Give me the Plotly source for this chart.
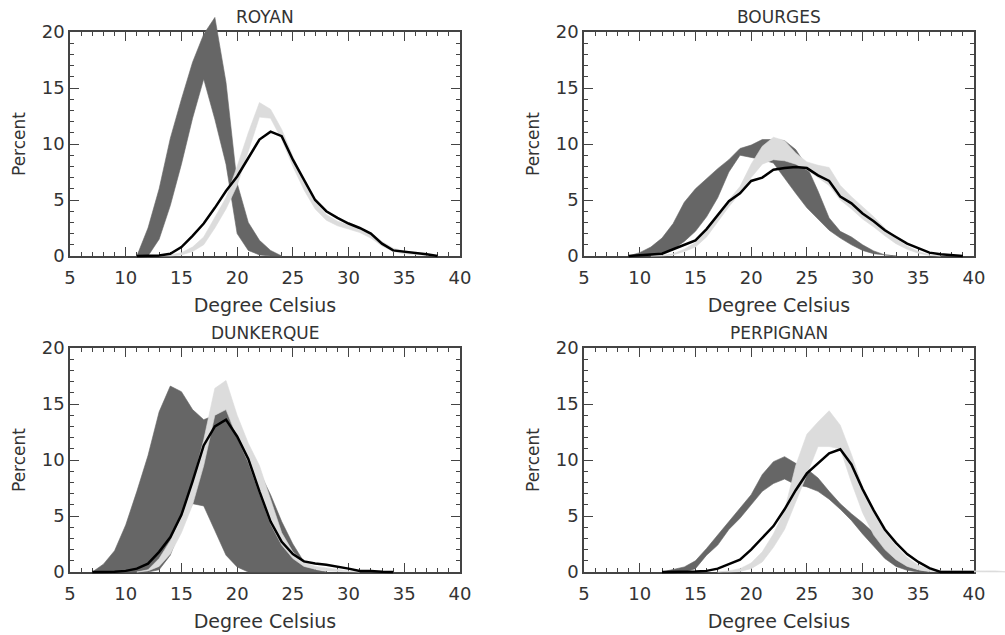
import plotly.graph_objects as go

W, H = 1005, 635

# ---------------- data (Percent vs Degree Celsius) ----------------
titles = ["ROYAN", "BOURGES", "DUNKERQUE", "PERPIGNAN"]

# ROYAN
royan_dark_x = list(range(11, 25))
royan_dark_lo = [0, 0, 1.5, 4.5, 8.2, 12.3, 15.8, 12.2, 8.2, 2.0, 0.5, 0.1, 0, 0]
royan_dark_hi = [0, 2.5, 6.0, 10.5, 14.0, 17.3, 19.8, 21.3, 15.5, 6.5, 3.0, 1.4, 0.5, 0]
royan_light_x = list(range(13, 39))
royan_light_lo = [0, 0, 0.1, 0.4, 1.0, 2.5, 4.2, 6.3, 9.3, 12.4, 12.3, 10.4, 8.0, 5.9,
                  4.2, 3.2, 2.7, 2.4, 2.1, 1.6, 0.9, 0.4, 0.2, 0.1, 0.05, 0]
royan_light_hi = [0, 0.1, 0.3, 0.8, 1.7, 3.4, 5.2, 8.0, 11.0, 13.7, 13.1, 11.3, 8.9, 6.7,
                  4.8, 3.7, 3.1, 2.8, 2.5, 2.0, 1.3, 0.7, 0.45, 0.3, 0.2, 0]
royan_line_x = list(range(11, 39))
royan_line_y = [0, 0, 0.05, 0.2, 0.8, 1.8, 2.9, 4.3, 5.8, 7.1, 8.8, 10.4, 11.1, 10.7,
                8.6, 6.8, 5.0, 4.0, 3.4, 2.9, 2.5, 2.0, 1.1, 0.5, 0.4, 0.3, 0.15, 0]

# BOURGES
bourges_dark_x = list(range(9, 34))
bourges_dark_lo = [0, 0, 0.05, 0.2, 0.6, 1.3, 2.2, 3.5, 5.2, 7.5, 9.0, 8.8, 8.6, 8.3,
                   7.0, 5.6, 4.3, 3.3, 2.3, 1.6, 1.0, 0.5, 0.2, 0.05, 0]
bourges_dark_hi = [0, 0.3, 0.8, 1.6, 2.9, 4.8, 6.0, 6.9, 7.8, 8.6, 9.6, 9.9, 10.4, 10.4,
                   10.3, 9.5, 8.0, 5.8, 3.4, 2.2, 1.7, 1.0, 0.45, 0.1, 0]
bourges_light_x = list(range(11, 38))
bourges_light_lo = [0, 0, 0.1, 0.4, 0.8, 1.7, 3.0, 4.4, 5.6, 7.0, 8.2, 8.6, 8.5, 8.2,
                    7.7, 7.0, 6.3, 5.0, 4.2, 3.3, 2.6, 1.8, 1.1, 0.6, 0.25, 0.05, 0]
bourges_light_hi = [0, 0.05, 0.2, 0.6, 1.2, 2.2, 3.6, 5.0, 6.2, 8.2, 9.8, 10.6, 10.3, 9.2,
                    8.4, 8.1, 7.9, 6.3, 5.3, 4.4, 3.5, 2.5, 1.6, 0.9, 0.4, 0.1, 0]
bourges_line_x = list(range(9, 40))
bourges_line_y = [0, 0.05, 0.1, 0.2, 0.6, 1.0, 1.4, 2.4, 3.6, 4.9, 5.6, 6.7, 7.0, 7.7,
                  7.85, 7.95, 7.85, 7.2, 6.7, 5.3, 4.7, 3.8, 3.1, 2.3, 1.7, 1.1, 0.7,
                  0.3, 0.15, 0.05, 0]

# DUNKERQUE
dunk_dark_x = list(range(7, 29))
dunk_dark_lo = [0, 0, 0, 0, 0, 0, 0.2, 1.5, 4.1, 6.1, 5.9, 3.7, 1.5, 0.45, 0,
                0, 0, 0, 0, 0, 0, 0]
dunk_dark_hi = [0, 0.7, 1.9, 4.2, 7.2, 10.4, 14.3, 16.6, 16.1, 14.5, 13.6, 14.0, 14.6,
                12.9, 11.0, 8.9, 6.9, 4.5, 2.5, 0.9, 0.2, 0]
dunk_light_x = list(range(11, 32))
dunk_light_lo = [0, 0.1, 0.5, 1.6, 3.5, 6.0, 9.5, 14.0, 14.5, 12.0, 9.8, 7.0, 4.3, 2.4,
                 1.2, 0.5, 0.25, 0.1, 0.05, 0, 0]
dunk_light_hi = [0, 0.2, 1.2, 2.8, 5.0, 8.0, 11.8, 16.4, 17.1, 14.0, 11.5, 9.5, 6.5, 3.5,
                 1.8, 0.9, 0.5, 0.35, 0.2, 0.1, 0]
dunk_line_x = list(range(7, 35))
dunk_line_y = [0, 0, 0.02, 0.1, 0.3, 0.75, 1.8, 3.1, 5.1, 8.1, 11.3, 13.0, 13.6, 12.1,
               10.1, 7.2, 4.5, 2.7, 1.6, 0.95, 0.75, 0.65, 0.5, 0.3, 0.1, 0.1, 0.03, 0]

# PERPIGNAN
perp_dark_x = list(range(12, 37))
perp_dark_lo = [0, 0, 0, 0.3, 1.5, 2.4, 3.8, 4.8, 6.0, 7.2, 7.9, 8.3, 7.8, 7.6, 7.2,
                6.5, 5.6, 4.6, 3.4, 2.3, 1.2, 0.5, 0.15, 0, 0]
perp_dark_hi = [0, 0.2, 0.45, 1.0, 2.1, 3.3, 4.5, 5.8, 6.9, 8.7, 9.85, 10.3, 9.7, 9.2,
                8.4, 7.2, 6.1, 5.2, 4.4, 3.5, 2.4, 1.5, 0.6, 0.15, 0]
perp_light_x = list(range(17, 44))
perp_light_lo = [0, 0, 0.05, 0.3, 0.9, 2.2, 3.8, 6.3, 8.7, 11.2, 11.2, 11.0, 8.0, 5.3,
                 3.3, 2.0, 1.1, 0.5, 0.2, 0.05, 0, 0, 0, 0, 0, 0, 0]
perp_light_hi = [0, 0.1, 0.3, 0.8, 1.8, 3.4, 5.5, 9.5, 12.3, 13.4, 14.4, 13.1, 10.5, 7.6,
                 5.3, 3.6, 2.3, 1.3, 0.6, 0.25, 0.12, 0.1, 0.1, 0.1, 0.1, 0.1, 0]
perp_line_x = list(range(12, 41))
perp_line_y = [0, 0, 0.03, 0.05, 0.1, 0.3, 0.7, 1.1, 2.0, 3.1, 4.1, 5.6, 7.3, 8.8, 9.7,
               10.6, 10.95, 9.6, 7.4, 5.5, 3.8, 2.6, 1.6, 0.9, 0.35, 0, 0, 0, 0]

x_tick_vals = [5, 10, 15, 20, 25, 30, 35, 40]
y_tick_vals = [0, 5, 10, 15, 20]
x_title = "Degree Celsius"
y_title = "Percent"

panels = [
    (royan_dark_x, royan_dark_lo, royan_dark_hi, royan_light_x, royan_light_lo,
     royan_light_hi, royan_line_x, royan_line_y),
    (bourges_dark_x, bourges_dark_lo, bourges_dark_hi, bourges_light_x, bourges_light_lo,
     bourges_light_hi, bourges_line_x, bourges_line_y),
    (dunk_dark_x, dunk_dark_lo, dunk_dark_hi, dunk_light_x, dunk_light_lo,
     dunk_light_hi, dunk_line_x, dunk_line_y),
    (perp_dark_x, perp_dark_lo, perp_dark_hi, perp_light_x, perp_light_lo,
     perp_light_hi, perp_line_x, perp_line_y),
]

# ---------------- layout geometry (pixels) ----------------
boxes = [(70, 32, 460, 256), (584, 32, 974, 256), (70, 348, 460, 572), (584, 348, 974, 572)]
XMIN, XMAX, YMIN, YMAX = 5, 40, 0, 20

DARK = "#666666"
LIGHT = "#dcdcdc"
TXT = "#333333"
AX = "#444444"
FONT = "DejaVu Sans"

fig = go.Figure()
layout = dict(
    width=W, height=H,
    margin=dict(l=0, r=0, t=0, b=0, autoexpand=False),
    paper_bgcolor="white",
    plot_bgcolor="rgba(0,0,0,0)",
    showlegend=False,
    font=dict(family=FONT, color=TXT),
    annotations=[],
)

for i, (box, data) in enumerate(zip(boxes, panels)):
    L, T, R, B = box
    n = i + 1
    o = i + 5
    # main visible axes
    layout[f"xaxis{n}"] = dict(
        domain=[L / W, R / W], anchor=f"y{n}", range=[XMIN, XMAX],
        tickvals=x_tick_vals, ticks="inside", ticklen=9, tickwidth=1.2, tickcolor=AX,
        minor=dict(dtick=1, tick0=5, ticks="inside", ticklen=4, tickwidth=1, tickcolor=AX),
        showline=True, linecolor=AX, linewidth=1.5, mirror="ticks",
        showgrid=False, zeroline=False, ticklabelstandoff=5,
        tickfont=dict(size=18, color=TXT, family=FONT),
        title=dict(text=x_title, font=dict(size=19, color=TXT, family=FONT), standoff=11),
    )
    layout[f"yaxis{n}"] = dict(
        domain=[1 - B / H, 1 - T / H], anchor=f"x{n}", range=[YMIN, YMAX],
        tickvals=y_tick_vals, ticks="inside", ticklen=9, tickwidth=1.2, tickcolor=AX,
        minor=dict(dtick=1, tick0=0, ticks="inside", ticklen=4, tickwidth=1, tickcolor=AX),
        showline=True, linecolor=AX, linewidth=1.5, mirror="ticks",
        showgrid=False, zeroline=False,
        tickfont=dict(size=18, color=TXT, family=FONT),
        title=dict(text=y_title, font=dict(size=17, color=TXT, family=FONT), standoff=12),
    )
    # overlay (invisible) axes with the same scale but a larger clip area
    pxu = (R - L) / (XMAX - XMIN)
    pyu = (B - T) / (YMAX - YMIN)
    Lo, Ro = max(L - 10, 0), min(R + 31, W)
    To, Bo = max(T - 20, 0), min(B + 5, H)
    layout[f"xaxis{o}"] = dict(
        domain=[Lo / W, Ro / W], anchor=f"y{o}", visible=False,
        range=[XMIN - (L - Lo) / pxu, XMAX + (Ro - R) / pxu])
    layout[f"yaxis{o}"] = dict(
        domain=[1 - Bo / H, 1 - To / H], anchor=f"x{o}", visible=False,
        range=[YMIN - (Bo - B) / pyu, YMAX + (T - To) / pyu])

    # an empty trace so that the framed subplot is created
    fig.add_trace(go.Scatter(x=[None], y=[None], mode="lines",
                             xaxis=f"x{n}", yaxis=f"y{n}", hoverinfo="skip"))

    dx, dlo, dhi, lx, llo, lhi, bx, by = data
    xa, ya = f"x{o}", f"y{o}"
    fig.add_trace(go.Scatter(
        x=list(dx) + list(dx)[::-1], y=list(dhi) + list(dlo)[::-1],
        mode="lines", fill="toself", fillcolor=DARK, line=dict(width=0.6, color=DARK),
        xaxis=xa, yaxis=ya, hoverinfo="skip"))
    fig.add_trace(go.Scatter(
        x=list(lx) + list(lx)[::-1], y=list(lhi) + list(llo)[::-1],
        mode="lines", fill="toself", fillcolor=LIGHT, line=dict(width=0.6, color=LIGHT),
        xaxis=xa, yaxis=ya, hoverinfo="skip"))
    fig.add_trace(go.Scatter(
        x=bx, y=by, mode="lines", line=dict(color="black", width=2.5),
        xaxis=xa, yaxis=ya))

    # panel title
    layout["annotations"].append(dict(
        text=titles[i], x=(L + R) / 2 / W, y=1 - (T - 15) / H,
        xref="paper", yref="paper", xanchor="center", yanchor="middle",
        showarrow=False, font=dict(size=17, color=TXT, family=FONT)))

fig.update_layout(**layout)
fig.write_html("out.html",
               config={"displayModeBar": False},
               post_script="document.body.style.margin='0';document.body.style.overflow='hidden';")
